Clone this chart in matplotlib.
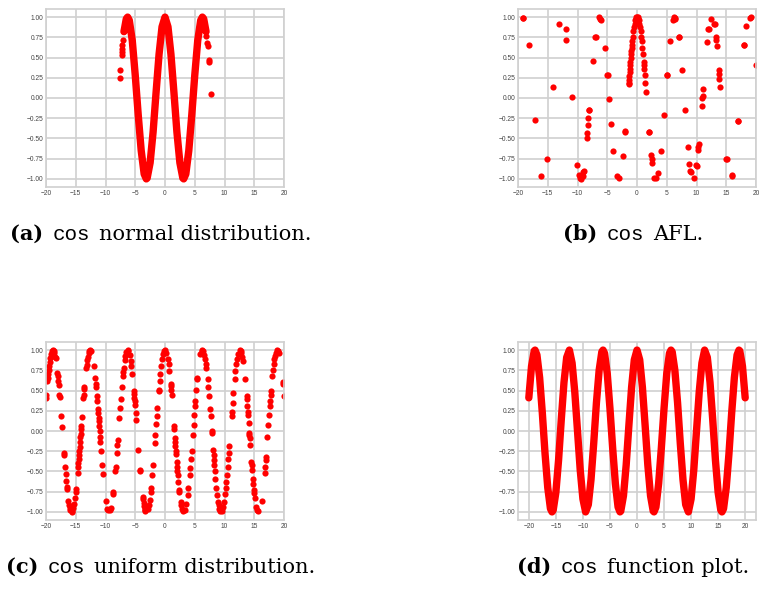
import matplotlib.pyplot as plt

# ---- (a) cos of normal-distribution samples: dense band + sparse tail points
normal_band_x = [-6.9, -6.5, -6.28, -6.0, -5.5, -5.0, -4.5, -4.0, -3.5, -3.14, -3.0,
                 -2.5, -2.0, -1.5, -1.0, -0.5, 0.0, 0.5, 1.0, 1.5, 2.0, 2.5, 3.0,
                 3.14, 3.5, 4.0, 4.5, 5.0, 5.5, 6.0, 6.28, 6.5, 6.9]
normal_band_y = [0.82, 0.98, 1.00, 0.96, 0.71, 0.28, -0.21, -0.65, -0.94, -1.00, -0.99,
                 -0.80, -0.42, 0.07, 0.54, 0.88, 1.00, 0.88, 0.54, 0.07, -0.42, -0.80, -0.99,
                 -1.00, -0.94, -0.65, -0.21, 0.28, 0.71, 0.96, 1.00, 0.98, 0.82]
normal_tail_x = [-7.6, -7.5, -7.3, -7.25, -7.2, -7.15, -7.05, 6.97, 7.1, 7.15, 7.35, 7.38, 7.8]
normal_tail_y = [0.25, 0.35, 0.53, 0.57, 0.61, 0.65, 0.72, 0.77, 0.68, 0.64, 0.47, 0.45, 0.05]

# ---- (b) cos of AFL inputs
afl_pts = [
    (-19.2, 0.99), (-19.1, 0.99), (-18.1, 0.66), (-17.1, -0.27), (-16.1, -0.96),
    (-15.05, -0.76), (-14.1, 0.14), (-13.05, 0.91), (-12.0, 0.85), (-11.85, 0.72),
    (-11.0, 0.01), (-10.05, -0.83), (-9.75, -0.95), (-9.5, -0.99), (-9.4, -1.0),
    (-9.15, -0.96), (-9.05, -0.92), (-8.95, -0.90), (-8.45, -0.50), (-8.35, -0.43),
    (-8.25, -0.33), (-8.2, -0.25), (-8.1, -0.15), (-8.0, -0.15), (-7.45, 0.46),
    (-7.0, 0.76), (-6.95, 0.75), (-6.4, 1.0), (-6.2, 0.98), (-6.05, 0.97),
    (-5.4, 0.62), (-5.05, 0.29), (-4.95, 0.28), (-4.75, -0.01), (-4.45, -0.32),
    (-3.95, -0.66), (-3.35, -0.97), (-3.05, -0.99), (-2.4, -0.72), (-2.0, -0.42),
    (-1.95, -0.41),
    (-1.4, 0.17), (-1.38, 0.19), (-1.35, 0.22), (-1.3, 0.27), (-1.25, 0.32),
    (-1.2, 0.36), (-1.15, 0.41), (-1.1, 0.45), (-1.05, 0.50), (-1.0, 0.54),
    (-0.95, 0.58), (-0.9, 0.62), (-0.85, 0.66), (-0.8, 0.70), (-0.7, 0.76),
    (-0.6, 0.83), (-0.5, 0.88), (-0.4, 0.92), (-0.3, 0.96), (-0.2, 0.98),
    (-0.1, 1.0), (0.0, 1.0), (0.1, 1.0), (0.2, 0.98), (0.3, 0.96), (0.4, 0.92),
    (0.5, 0.88), (0.6, 0.83), (0.7, 0.76), (0.8, 0.70), (0.9, 0.62), (1.0, 0.54),
    (1.1, 0.45), (1.15, 0.41), (1.2, 0.36), (1.28, 0.29), (1.38, 0.19), (1.5, 0.07),
    (1.95, -0.42), (2.05, -0.42), (2.35, -0.71), (2.45, -0.75), (2.5, -0.80),
    (2.9, -0.99), (3.15, -0.99), (3.5, -0.93), (4.0, -0.65), (4.5, -0.21),
    (5.0, 0.28), (5.05, 0.29), (5.5, 0.71), (6.0, 0.96), (6.2, 1.0), (6.35, 0.99),
    (6.45, 0.98), (7.0, 0.76), (7.02, 0.75), (7.5, 0.35), (8.0, -0.15), (8.5, -0.60),
    (8.75, -0.81), (8.95, -0.90), (9.0, -0.91), (9.5, -0.99), (9.95, -0.83),
    (10.0, -0.84), (10.3, -0.64), (10.3, -0.60), (10.35, -0.57), (10.9, -0.10),
    (11.0, 0.0), (11.05, 0.02), (11.15, 0.11), (11.75, 0.69), (12.0, 0.85),
    (12.1, 0.85), (12.4, 0.98), (12.9, 0.91), (13.1, 0.91), (13.3, 0.75),
    (13.35, 0.72), (13.45, 0.64), (13.75, 0.34), (13.8, 0.30), (13.85, 0.24),
    (14.0, 0.14), (15.0, -0.76), (15.05, -0.76), (15.95, -0.96), (16.05, -0.95),
    (17.0, -0.28), (17.05, -0.28), (17.95, 0.66), (18.05, 0.66), (18.4, 0.89),
    (19.0, 0.99), (19.1, 1.0), (20.0, 0.41),
]

# ---- (c) cos of uniform-distribution samples
uniform_pts = [
    (-20.0, 0.41), (-19.95, 0.45), (-19.75, 0.62), (-19.70, 0.66), (-19.65, 0.70),
    (-19.57, 0.75), (-19.49, 0.80), (-19.40, 0.85), (-19.30, 0.90), (-19.17, 0.95),
    (-18.99, 0.99),
    (-18.85, 1.00), (-18.71, 0.99), (-18.60, 0.97), (-18.45, 0.92), (-18.40, 0.90),
    (-18.08, 0.72), (-18.03, 0.68), (-17.95, 0.62), (-17.89, 0.57), (-17.75, 0.45),
    (-17.72, 0.42), (-17.46, 0.18), (-17.33, 0.05), (-17.01, -0.27), (-16.97, -0.30),
    (-16.82, -0.44), (-16.72, -0.53), (-16.61, -0.62), (-16.52, -0.69), (-16.48, -0.72),
    (-16.22, -0.87), (-16.11, -0.92), (-16.03, -0.95), (-15.91, -0.98), (-15.71, -1.00),
    (-15.57, -0.99), (-15.39, -0.95), (-15.26, -0.90), (-15.12, -0.83), (-14.99, -0.75),
    (-14.94, -0.72), (-14.69, -0.52), (-14.61, -0.45), (-14.55, -0.40), (-14.50, -0.35),
    (-14.45, -0.30), (-14.39, -0.25), (-14.34, -0.20), (-14.27, -0.13), (-14.22, -0.08),
    (-14.18, -0.04), (-14.12, 0.02), (-14.08, 0.06), (-13.97, 0.17), (-13.72, 0.41),
    (-13.67, 0.45), (-13.59, 0.52), (-13.56, 0.55), (-13.25, 0.78), (-13.18, 0.82),
    (-13.07, 0.88), (-12.97, 0.92), (-12.85, 0.96), (-12.71, 0.99), (-12.57, 1.00),
    (-12.43, 0.99), (-11.93, 0.80), (-11.72, 0.66), (-11.62, 0.58), (-11.57, 0.54),
    (-11.44, 0.43), (-11.38, 0.37), (-11.27, 0.27), (-11.22, 0.22), (-11.16, 0.16),
    (-11.12, 0.12), (-11.06, 0.06), (-11.00, 0.00), (-10.93, -0.07), (-10.87, -0.13),
    (-10.75, -0.25), (-10.57, -0.42), (-10.44, -0.53), (-9.96, -0.86), (-9.71, -0.96),
    (-9.63, -0.98),
    (-9.22, -0.98), (-9.10, -0.95), (-8.75, -0.78), (-8.70, -0.75), (-8.37, -0.50),
    (-8.31, -0.44), (-8.12, -0.27), (-8.02, -0.17), (-7.96, -0.11), (-7.69, 0.16),
    (-7.57, 0.28), (-7.45, 0.39), (-7.28, 0.54), (-7.10, 0.68), (-7.03, 0.73),
    (-6.96, 0.78), (-6.78, 0.88), (-6.66, 0.93), (-6.48, 0.98), (-6.28, 1.00),
    (-6.14, 0.99), (-5.93, 0.94), (-5.76, 0.87), (-5.64, 0.80), (-5.48, 0.70),
    (-5.23, 0.50), (-5.19, 0.46), (-5.13, 0.41), (-5.09, 0.37), (-5.03, 0.32),
    (-4.93, 0.22), (-4.85, 0.14), (-4.48, -0.23), (-4.21, -0.48), (-4.19, -0.50),
    (-3.77, -0.81), (-3.71, -0.84), (-3.61, -0.89), (-3.51, -0.93), (-3.42, -0.96),
    (-3.34, -0.98), (-3.28, -0.99),
    (-2.86, -0.96), (-2.74, -0.92), (-2.59, -0.85), (-2.42, -0.75), (-2.36, -0.71),
    (-2.14, -0.54), (-2.00, -0.42), (-1.72, -0.15), (-1.62, -0.05), (-1.48, 0.09),
    (-1.39, 0.18), (-1.28, 0.29), (-1.06, 0.49), (-1.04, 0.51), (-0.90, 0.62),
    (-0.80, 0.70), (-0.64, 0.80), (-0.47, 0.89), (-0.32, 0.95), (-0.14, 0.99),
    (0.00, 1.00),
    (0.25, 0.97), (0.47, 0.89), (0.59, 0.83), (0.74, 0.74), (0.95, 0.58),
    (0.98, 0.56), (1.04, 0.51), (1.10, 0.45), (1.51, 0.06), (1.55, 0.02),
    (1.66, -0.09), (1.70, -0.13), (1.76, -0.19), (1.82, -0.25), (1.87, -0.29),
    (1.96, -0.38), (2.03, -0.44), (2.09, -0.50), (2.14, -0.54), (2.25, -0.63),
    (2.39, -0.73), (2.42, -0.75), (2.64, -0.88), (2.74, -0.92), (2.86, -0.96),
    (3.00, -0.99),
    (3.34, -0.98), (3.59, -0.90), (3.80, -0.79), (3.92, -0.71), (4.14, -0.54),
    (4.23, -0.46), (4.36, -0.34), (4.46, -0.25), (4.66, -0.05), (4.79, 0.08),
    (4.91, 0.20), (5.02, 0.31), (5.09, 0.37), (5.24, 0.51), (5.40, 0.64),
    (5.43, 0.66), (5.96, 0.95), (6.14, 0.99), (6.28, 1.00),
    (6.42, 0.99), (6.63, 0.94), (6.75, 0.89), (6.87, 0.83), (6.96, 0.78),
    (7.16, 0.64), (7.28, 0.54), (7.41, 0.43), (7.58, 0.27), (7.67, 0.18),
    (7.85, 0.00), (7.87, -0.02), (8.08, -0.23), (8.16, -0.30), (8.22, -0.36),
    (8.28, -0.42), (8.37, -0.50), (8.48, -0.59), (8.64, -0.71), (8.76, -0.79),
    (8.92, -0.88), (9.02, -0.92), (9.14, -0.96), (9.28, -0.99),
    (9.57, -0.99), (9.78, -0.94), (9.93, -0.88), (10.10, -0.78), (10.21, -0.71),
    (10.32, -0.63), (10.43, -0.54), (10.54, -0.44), (10.65, -0.34), (10.73, -0.27),
    (10.81, -0.19), (11.18, 0.18), (11.24, 0.24), (11.36, 0.35), (11.49, 0.47),
    (11.69, 0.64), (11.83, 0.74), (11.98, 0.83), (12.10, 0.89), (12.25, 0.95),
    (12.57, 1.00),
    (12.71, 0.99), (12.82, 0.97), (12.97, 0.92), (13.09, 0.87), (13.45, 0.64),
    (13.70, 0.43), (13.74, 0.39), (13.83, 0.31), (13.90, 0.24), (13.94, 0.20),
    (14.04, 0.10), (14.16, -0.02), (14.19, -0.05), (14.23, -0.09), (14.31, -0.17),
    (14.53, -0.38), (14.57, -0.42), (14.64, -0.48), (14.77, -0.59), (14.85, -0.65),
    (14.96, -0.73), (15.02, -0.77), (15.12, -0.83), (15.36, -0.94), (15.51, -0.98),
    (15.57, -0.99),
    (16.24, -0.86), (16.73, -0.52), (16.82, -0.44), (16.91, -0.36), (16.95, -0.32),
    (17.21, -0.07), (17.36, 0.08), (17.48, 0.20), (17.59, 0.31), (17.66, 0.37),
    (17.75, 0.45), (17.79, 0.49), (18.03, 0.68), (18.14, 0.76), (18.26, 0.83),
    (18.38, 0.89), (18.47, 0.93), (18.60, 0.97), (18.85, 1.00),
    (18.99, 0.99), (19.10, 0.97), (19.78, 0.60), (19.80, 0.58), (19.98, 0.43),
]

# ---- (d) cos function plot
func_x = [-20.0, -19.5, -19.0, -18.85, -18.5, -18.0, -17.5, -17.0, -16.5, -16.0,
          -15.71, -15.5, -15.0, -14.5, -14.0, -13.5, -13.0, -12.5, -12.0, -11.5,
          -11.0, -10.5, -10.0, -9.5, -9.0, -8.5, -8.0, -7.5, -7.0, -6.5,
          -6.28, -6.0, -5.5, -5.0, -4.5, -4.0, -3.5, -3.14, -3.0, -2.5,
          -2.0, -1.5, -1.0, -0.5,
          0.0,
          0.5, 1.0, 1.5, 2.0,
          2.5, 3.0, 3.14, 3.5, 4.0, 4.5, 5.0, 5.5, 6.0, 6.28,
          6.5, 7.0, 7.5, 8.0, 8.5, 9.0, 9.5, 10.0, 10.5, 11.0,
          11.5, 12.0, 12.5, 13.0, 13.5, 14.0, 14.5, 15.0, 15.5, 15.71,
          16.0, 16.5, 17.0, 17.5, 18.0, 18.5, 18.85, 19.0, 19.5, 20.0]
func_y = [0.41, 0.80, 0.99, 1.00, 0.94, 0.66, 0.22, -0.28, -0.70, -0.96,
          -1.00, -0.98, -0.76, -0.36, 0.14, 0.60, 0.91, 1.00, 0.84, 0.48,
          0.00, -0.48, -0.84, -1.00, -0.91, -0.60, -0.15, 0.35, 0.75, 0.98,
          1.00, 0.96, 0.71, 0.28, -0.21, -0.65, -0.94, -1.00, -0.99, -0.80,
          -0.42, 0.07, 0.54, 0.88,
          1.00,
          0.88, 0.54, 0.07, -0.42,
          -0.80, -0.99, -1.00, -0.94, -0.65, -0.21, 0.28, 0.71, 0.96, 1.00,
          0.98, 0.75, 0.35, -0.15, -0.60, -0.91, -1.00, -0.84, -0.48, 0.00,
          0.48, 0.84, 1.00, 0.91, 0.60, 0.14, -0.36, -0.76, -0.98, -1.00,
          -0.96, -0.70, -0.28, 0.22, 0.66, 0.94, 1.00, 0.99, 0.80, 0.41]

x_ticks = [-20, -15, -10, -5, 0, 5, 10, 15, 20]
y_ticks = [-1.0, -0.75, -0.5, -0.25, 0.0, 0.25, 0.5, 0.75, 1.0]

captions = [
    ('a', 'normal distribution.'),
    ('b', 'AFL.'),
    ('c', 'uniform distribution.'),
    ('d', 'function plot.'),
]

RED = '#ff0000'
GRID = '#d0d0d0'
SERIF = 'DejaVu Serif'
MONO = 'Liberation Mono'
CAP_SIZE = 15
DOT = 20
BAND = 5.3

plt.rcParams['font.family'] = 'Liberation Sans'

W, H = 760, 594
fig = plt.figure(figsize=(W / 100, H / 100), dpi=100)

ax_w, ax_h = 238 / W, 178 / H
lefts = [46 / W, 518 / W]
bottoms = [1 - 187 / H, 1 - 520 / H]

ax_a = fig.add_axes([lefts[0], bottoms[0], ax_w, ax_h])
ax_b = fig.add_axes([lefts[1], bottoms[0], ax_w, ax_h])
ax_c = fig.add_axes([lefts[0], bottoms[1], ax_w, ax_h])
ax_d = fig.add_axes([lefts[1], bottoms[1], ax_w, ax_h])

for ax in (ax_a, ax_b, ax_c, ax_d):
    ax.set_facecolor('white')
    ax.grid(True, color=GRID, linewidth=1.2)
    ax.set_axisbelow(True)
    for s in ax.spines.values():
        s.set_color(GRID)
        s.set_linewidth(1.2)
    ax.set_xticks(x_ticks)
    ax.set_yticks(y_ticks)
    ax.tick_params(length=0, labelsize=4.8, labelcolor='#444444', pad=2)

# (a)
ax_a.plot(normal_band_x, normal_band_y, color=RED, lw=BAND,
          solid_capstyle='round', solid_joinstyle='round')
ax_a.scatter(normal_tail_x, normal_tail_y, s=DOT, color=RED, linewidths=0)
ax_a.set_xlim(-20, 20)

# (b)
bx, by = zip(*afl_pts)
ax_b.scatter(bx, by, s=DOT, color=RED, linewidths=0)
ax_b.set_xlim(-20, 20)

# (c)
cx, cy = zip(*uniform_pts)
ax_c.scatter(cx, cy, s=DOT, color=RED, linewidths=0)
ax_c.set_xlim(-20, 20)

# (d)
ax_d.plot(func_x, func_y, color=RED, lw=BAND,
          solid_capstyle='round', solid_joinstyle='round')


def caption(cx_px, base_px, letter, rest):
    pieces = [(f'({letter})', SERIF, 'bold'), ('cos', MONO, 'normal'), (rest, SERIF, 'normal')]
    texts = [fig.text(0, 1 - base_px / H, s, family=fam, weight=w,
                      fontsize=CAP_SIZE, va='baseline', color='black')
             for s, fam, w in pieces]
    r = fig.canvas.get_renderer()
    widths = [t.get_window_extent(r).width for t in texts]
    gap = 9
    total = sum(widths) + gap * (len(widths) - 1)
    x = cx_px - total / 2
    for t, w in zip(texts, widths):
        t.set_x(x / W)
        x += w + gap


caption(161, 240, *captions[0])
caption(633, 240, *captions[1])
caption(161, 573, *captions[2])
caption(633, 573, *captions[3])

fig.savefig('out.png', dpi=100)
